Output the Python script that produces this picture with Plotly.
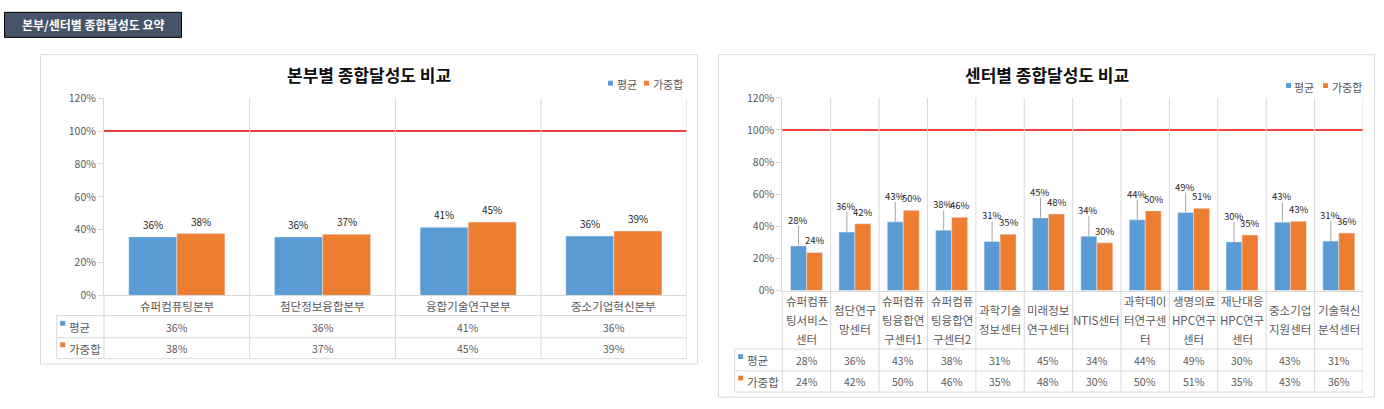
import plotly.graph_objects as go

W, H = 1384, 409

HEADER_TITLE = "본부/센터별 종합달성도 요약"
LEFT_TITLE = "본부별 종합달성도 비교"
RIGHT_TITLE = "센터별 종합달성도 비교"
SERIES = ["평균", "가중합"]

DIV_CATEGORIES = ["슈퍼컴퓨팅본부", "첨단정보융합본부", "융합기술연구본부", "중소기업혁신본부"]
DIV_AVG = [0.356, 0.356, 0.414, 0.361]
DIV_WSUM = [0.376, 0.372, 0.446, 0.392]

CENTER_TICK_LABELS = [
    "슈퍼컴퓨\n팅서비스\n센터",
    "첨단연구\n망센터",
    "슈퍼컴퓨\n팅융합연\n구센터1",
    "슈퍼컴퓨\n팅융합연\n구센터2",
    "과학기술\n정보센터",
    "미래정보\n연구센터",
    "NTIS센터",
    "과학데이\n터연구센\n터",
    "생명의료\nHPC연구\n센터",
    "재난대응\nHPC연구\n센터",
    "중소기업\n지원센터",
    "기술혁신\n분석센터",
]
CENTER_CATEGORIES = [s.replace("\n", "") for s in CENTER_TICK_LABELS]
CENTER_AVG = [0.278, 0.364, 0.428, 0.376, 0.306, 0.452, 0.338, 0.441, 0.486, 0.303, 0.426, 0.308]
CENTER_WSUM = [0.237, 0.416, 0.500, 0.456, 0.351, 0.477, 0.297, 0.496, 0.512, 0.346, 0.431, 0.358]

Y_TICKS = [0, 0.2, 0.4, 0.6, 0.8, 1.0, 1.2]
TARGET = 1.0

BLUE = "#5B9BD5"
ORANGE = "#ED7D31"
GRID = "#D9D9D9"
TXT = "#595959"
FONT = "Noto Sans CJK KR"


def fx(x):
    return x / W


def fy(y):
    return 1 - y / H


fig = go.Figure()
shapes = []
annotations = []


def panel(xa, ya, cats, labels, avg, wsum, geo, target_color, lifted_avg):
    xname = "x" if xa == "xaxis" else "x2"
    yname = "y" if ya == "yaxis" else "y2"
    n = len(cats)
    L, T, R, B = geo["plot"]
    fig.add_trace(go.Bar(x=cats, y=avg, name=SERIES[0], marker_color=BLUE, width=0.33, offset=-0.33,
                         xaxis=xname, yaxis=yname, showlegend=False, hoverinfo="skip"))
    fig.add_trace(go.Bar(x=cats, y=wsum, name=SERIES[1], marker_color=ORANGE, width=0.33, offset=0.0,
                         xaxis=xname, yaxis=yname, showlegend=False, hoverinfo="skip"))
    fig.update_layout(**{
        xa: dict(domain=[fx(L), fx(R)], range=[-0.5, n - 0.5], type="category", anchor=yname,
                 showticklabels=False, showgrid=False, zeroline=False, showline=True,
                 linecolor=GRID, linewidth=1, ticks="", fixedrange=True),
        ya: dict(domain=[fy(B), fy(T)], range=[0, 1.2], anchor=xname, tickvals=Y_TICKS,
                 tickformat=".0%", showgrid=False, zeroline=False, showline=True, linecolor=GRID,
                 linewidth=1, ticks="outside", ticklen=5, tickcolor=GRID,
                 tickfont=dict(size=10.5, color=TXT, family=FONT), fixedrange=True),
    })
    # panel box
    bx0, by0, bx1, by1 = geo["box"]
    shapes.append(dict(type="rect", xref="paper", yref="paper", x0=fx(bx0), x1=fx(bx1),
                       y0=fy(by0), y1=fy(by1), line=dict(color=GRID, width=1)))
    # title
    annotations.append(dict(xref="paper", yref="paper", x=fx((bx0 + bx1) / 2), y=fy(geo["title_y"]),
                            text="<b>%s</b>" % geo["title"], showarrow=False,
                            font=dict(size=17, color="#0D0D0D", family=FONT),
                            xanchor="center", yanchor="middle"))
    # top legend
    for (sx, tx), col, name in zip(geo["legend_x"], [BLUE, ORANGE], SERIES):
        ly = geo["legend_y"]
        shapes.append(dict(type="rect", xref="paper", yref="paper", x0=fx(sx), x1=fx(sx + 5),
                           y0=fy(ly + 1.5), y1=fy(ly - 3.5), fillcolor=col, line=dict(width=0)))
        annotations.append(dict(xref="paper", yref="paper", x=fx(tx), y=fy(ly), text=name,
                                showarrow=False, xanchor="left", yanchor="middle",
                                font=dict(size=11, color=TXT, family=FONT)))
    # target line
    shapes.append(dict(type="line", xref=xname + " domain", yref=yname, x0=0, x1=1,
                       y0=TARGET, y1=TARGET, line=dict(color=target_color, width=1.5)))
    # table geometry
    tl = geo["table_left"]
    rows = geo["rows"]
    tb = rows[-1]
    for i in range(n):
        shapes.append(dict(type="line", xref=xname, yref="paper", x0=i + 0.5, x1=i + 0.5,
                           y0=fy(T), y1=fy(tb), line=dict(color=GRID, width=1)))
    shapes.append(dict(type="line", xref="paper", yref="paper", x0=fx(L), x1=fx(L),
                       y0=fy(B), y1=fy(tb), line=dict(color=GRID, width=1)))
    for ry in rows:
        shapes.append(dict(type="line", xref="paper", yref="paper", x0=fx(tl), x1=fx(R),
                           y0=fy(ry), y1=fy(ry), line=dict(color=GRID, width=1)))
    shapes.append(dict(type="line", xref="paper", yref="paper", x0=fx(tl), x1=fx(tl),
                       y0=fy(rows[0]), y1=fy(tb), line=dict(color=GRID, width=1)))
    # category labels
    cy = geo["cat_y"]
    ls = geo["line_step"]
    for i, lab in enumerate(labels):
        parts = lab.split("\n")
        k = len(parts)
        for j, p in enumerate(parts):
            annotations.append(dict(xref=xname, yref="paper", x=i, y=fy(cy + (j - (k - 1) / 2) * ls),
                                    text=p, showarrow=False, xanchor="center", yanchor="middle",
                                    font=dict(size=geo["cat_size"], color=TXT, family=FONT)))
    # row legend + values
    for r, (vals, col, name) in enumerate(zip([avg, wsum], [BLUE, ORANGE], SERIES)):
        rc = (rows[r] + rows[r + 1]) / 2
        shapes.append(dict(type="rect", xref="paper", yref="paper", x0=fx(tl + 3.5), x1=fx(tl + 8.5),
                           y0=fy(rc - 6), y1=fy(rc - 1), fillcolor=col, line=dict(width=0)))
        annotations.append(dict(xref="paper", yref="paper", x=fx(tl + 10.5), y=fy(rc + 0.5), text=name,
                                showarrow=False, xanchor="left", yanchor="middle",
                                font=dict(size=11.5, color=TXT, family=FONT)))
        for i, v in enumerate(vals):
            annotations.append(dict(xref=xname, yref="paper", x=i, y=fy(rc + 0.5), text=f"{v:.0%}",
                                    showarrow=False, xanchor="center", yanchor="middle",
                                    font=dict(size=10.5, color=TXT, family=FONT)))
    # data labels
    for i, (a, w) in enumerate(zip(avg, wsum)):
        if lifted_avg:
            annotations.append(dict(xref=xname, yref=yname, x=i - 0.175, y=a, yshift=26, text=f"{a:.0%}",
                                    showarrow=False, xanchor="center", yanchor="middle",
                                    font=dict(size=9.5, color="#262626", family=FONT)))
            shapes.append(dict(type="line", xref=xname, yref=yname, ysizemode="pixel", yanchor=a,
                               x0=i - 0.165, x1=i - 0.165, y0=0, y1=20,
                               line=dict(color="#A6A6A6", width=1)))
            wx = i + 0.175
        else:
            annotations.append(dict(xref=xname, yref=yname, x=i - 0.165, y=a, yshift=3, text=f"{a:.0%}",
                                    showarrow=False, xanchor="center", yanchor="bottom",
                                    font=dict(size=10, color="#262626", family=FONT)))
            wx = i + 0.165
        annotations.append(dict(xref=xname, yref=yname, x=wx, y=w, yshift=3, text=f"{w:.0%}",
                                showarrow=False, xanchor="center", yanchor="bottom",
                                font=dict(size=9.5 if lifted_avg else 10, color="#262626", family=FONT)))


left_geo = dict(box=(40.5, 48.5, 697.5, 369.5), plot=(104, 93.7, 686.7, 298.3), title=LEFT_TITLE,
                title_y=69.5, legend_x=[(608, 614.5), (644, 651)], legend_y=79,
                table_left=56.7, rows=[319.3, 342.3, 364], cat_y=309.5, line_step=19.5, cat_size=11.5)
right_geo = dict(box=(718.5, 48.5, 1374.5, 404), plot=(782.3, 93.3, 1363, 293.3), title=RIGHT_TITLE,
                 title_y=69.5, legend_x=[(1286, 1292), (1323, 1330)], legend_y=81.5,
                 table_left=734.7, rows=[354, 376.7, 398.7], cat_y=323.7, line_step=19.5, cat_size=11.5)

panel("xaxis", "yaxis", DIV_CATEGORIES, DIV_CATEGORIES, DIV_AVG, DIV_WSUM, left_geo, "#E00000", False)
panel("xaxis2", "yaxis2", CENTER_CATEGORIES, CENTER_TICK_LABELS, CENTER_AVG, CENTER_WSUM, right_geo,
      "#FF0000", True)

# header box
shapes.append(dict(type="rect", xref="paper", yref="paper", x0=fx(4.5), x1=fx(181.5), y0=fy(4.5),
                   y1=fy(30.5), fillcolor="#44546A", line=dict(color="#000000", width=1)))
annotations.append(dict(xref="paper", yref="paper", x=fx(93), y=fy(17.5), text="<b>%s</b>" % HEADER_TITLE,
                        showarrow=False, xanchor="center", yanchor="middle",
                        font=dict(size=12, color="#FFFFFF", family=FONT)))

fig.update_layout(width=W, height=H, margin=dict(l=0, r=0, t=0, b=0), paper_bgcolor="white",
                  plot_bgcolor="white", barmode="overlay", shapes=shapes, annotations=annotations,
                  font=dict(family=FONT), showlegend=False)

fig.write_html("out.html", config={"displayModeBar": False})
